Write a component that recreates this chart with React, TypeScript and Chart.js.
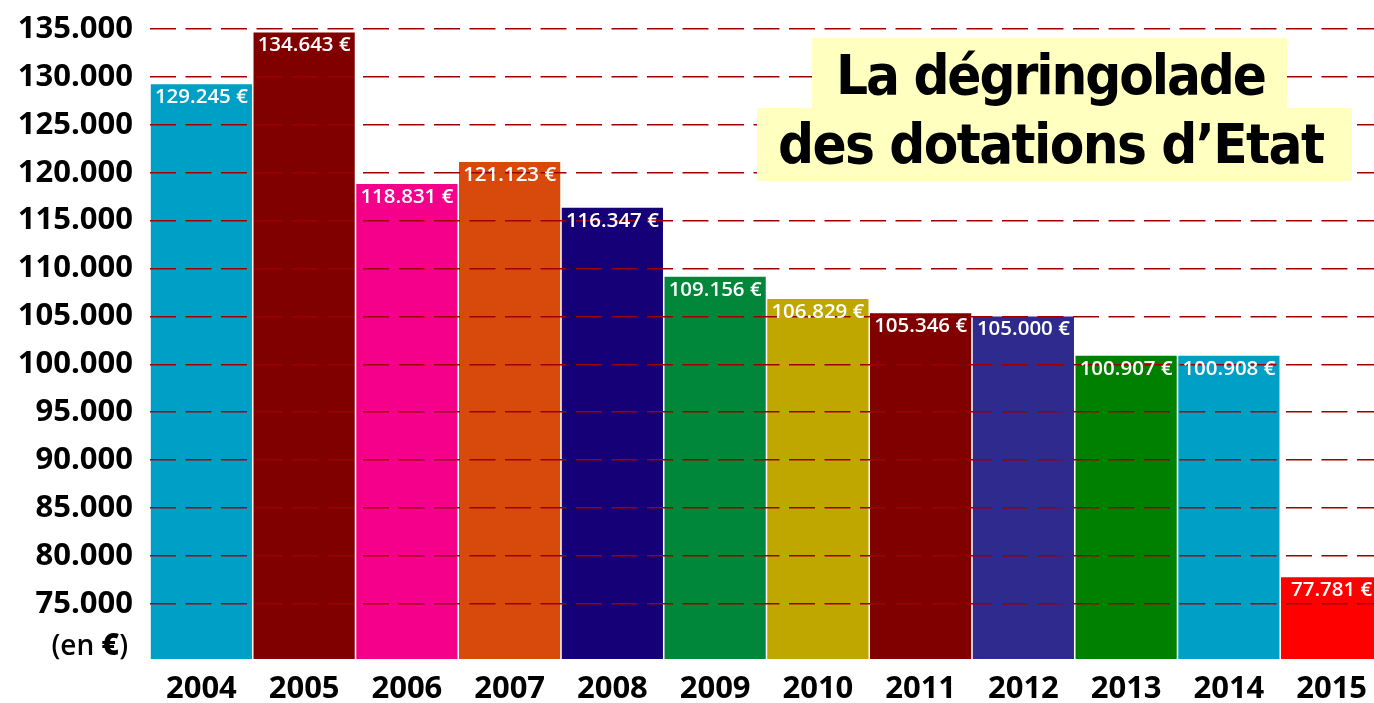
import React, { useEffect, useRef } from 'react';
import { Chart, registerables } from 'chart.js';

Chart.register(...registerables);

const years = ['2004', '2005', '2006', '2007', '2008', '2009', '2010', '2011', '2012', '2013', '2014', '2015'];
const amounts = [129245, 134643, 118831, 121123, 116347, 109156, 106829, 105346, 105000, 100907, 100908, 77781];
const amountLabels = ['129.245 €', '134.643 €', '118.831 €', '121.123 €', '116.347 €', '109.156 €', '106.829 €', '105.346 €', '105.000 €', '100.907 €', '100.908 €', '77.781 €'];
const barColors = ['#00A0C6', '#800000', '#F5008A', '#D84A0B', '#150078', '#00873A', '#C0A700', '#800000', '#2E2A8E', '#008000', '#00A0C6', '#FF0000'];
const yTickValues = [75000, 80000, 85000, 90000, 95000, 100000, 105000, 110000, 115000, 120000, 125000, 130000, 135000];
const yTickLabels = ['75.000', '80.000', '85.000', '90.000', '95.000', '100.000', '105.000', '110.000', '115.000', '120.000', '125.000', '130.000', '135.000'];
const yMin = 69250;
const yMax = 135000;
const titleLines = ['La dégringolade', 'des dotations d’Etat'];
const unitParts = ['(en ', '€', ')'];

const FONT = '"Open Sans", "Noto Sans", sans-serif';
const TITLE_FONT = '"Liberation Sans Narrow", "DejaVu Sans Condensed", "Liberation Sans", sans-serif';

const overlayPlugin = {
  id: 'overlay',
  afterDraw(chart: any) {
    const ctx = chart.ctx as CanvasRenderingContext2D;
    const meta = chart.getDatasetMeta(0);
    ctx.save();
    // value labels
    ctx.font = `600 20.5px ${FONT}`;
    ctx.fillStyle = '#ffffff';
    ctx.textAlign = 'center';
    ctx.textBaseline = 'alphabetic';
    meta.data.forEach((bar: any, i: number) => {
      ctx.fillText(amountLabels[i], bar.x, bar.y + 19);
    });

    // unit label
    ctx.textAlign = 'left';
    ctx.fillStyle = '#000000';
    const normalFont = `600 28px ${FONT}`;
    const boldFont = `800 30px ${FONT}`;
    ctx.font = normalFont;
    const w0 = ctx.measureText(unitParts[0]).width;
    const w2 = ctx.measureText(unitParts[2]).width;
    ctx.font = boldFont;
    const w1 = ctx.measureText(unitParts[1]).width;
    const right = 128;
    let x = right - (w0 + w1 + w2);
    const base = 655;
    ctx.font = normalFont;
    ctx.fillText(unitParts[0], x, base);
    x += w0;
    ctx.font = boldFont;
    ctx.fillText(unitParts[1], x, base);
    x += w1;
    ctx.font = normalFont;
    ctx.fillText(unitParts[2], x, base);

    // title boxes
    ctx.fillStyle = '#FFFFC0';
    ctx.fillRect(812, 38, 475, 71);
    ctx.fillRect(757, 108, 595, 73);
    ctx.fillStyle = '#000000';
    ctx.font = `bold 56px ${TITLE_FONT}`;
    const targets = [
      { text: titleLines[0], x: 836, w: 431, base: 94 },
      { text: titleLines[1], x: 778, w: 547, base: 163 },
    ];
    targets.forEach((t) => {
      (ctx as any).letterSpacing = '0px';
      const n = t.text.length;
      const mw = ctx.measureText(t.text).width;
      const sp = (t.w - mw) / Math.max(1, n - 1);
      (ctx as any).letterSpacing = `${sp}px`;
      ctx.fillText(t.text, t.x, t.base);
    });
    (ctx as any).letterSpacing = '0px';
    ctx.restore();
  },
};

export default function App() {
  const canvasRef = useRef<HTMLCanvasElement | null>(null);

  useEffect(() => {
    document.body.style.margin = '0';
    const canvas = canvasRef.current;
    if (!canvas) return;
    const chart = new Chart(canvas, {
      type: 'bar',
      data: {
        labels: years,
        datasets: [
          {
            data: amounts,
            backgroundColor: barColors,
            borderWidth: 0,
            barPercentage: 0.985,
            categoryPercentage: 1,
          },
        ],
      },
      options: {
        animation: false,
        responsive: true,
        maintainAspectRatio: false,
        layout: { padding: { top: 29, right: 0, left: 0, bottom: 0 } },
        plugins: {
          legend: { display: false },
          title: { display: false },
          tooltip: { enabled: false },
        },
        scales: {
          x: {
            grid: { display: false, drawTicks: false },
            border: { display: false },
            ticks: {
              color: '#000000',
              padding: 12,
              font: { family: FONT, size: 31, weight: 'bold' },
            },
            afterFit: (scale: any) => {
              scale.height = 44;
            },
          },
          y: {
            min: yMin,
            max: yMax,
            grid: { z: 1, color: '#9E0000', lineWidth: 1.6, drawTicks: false },
            border: { display: false, dash: [26, 9.5] },
            afterBuildTicks: (scale: any) => {
              scale.ticks = yTickValues.map((v) => ({ value: v }));
            },
            ticks: {
              color: '#000000',
              padding: 17,
              font: { family: FONT, size: 31, weight: 'bold' },
              callback: (_v: any, i: number) => yTickLabels[i],
            },
            afterFit: (scale: any) => {
              scale.width = 150;
              scale.paddingTop = 0;
              scale.paddingBottom = 0;
            },
          },
        },
      },
      plugins: [overlayPlugin],
    });
    return () => chart.destroy();
  }, []);

  return (
    <div style={{ position: 'absolute', left: 0, top: 0, width: 1374, height: 703, overflow: 'hidden', background: '#ffffff' }}>
      <div style={{ position: 'relative', width: 1383, height: 703 }}>
        <canvas ref={canvasRef} />
      </div>
    </div>
  );
}
